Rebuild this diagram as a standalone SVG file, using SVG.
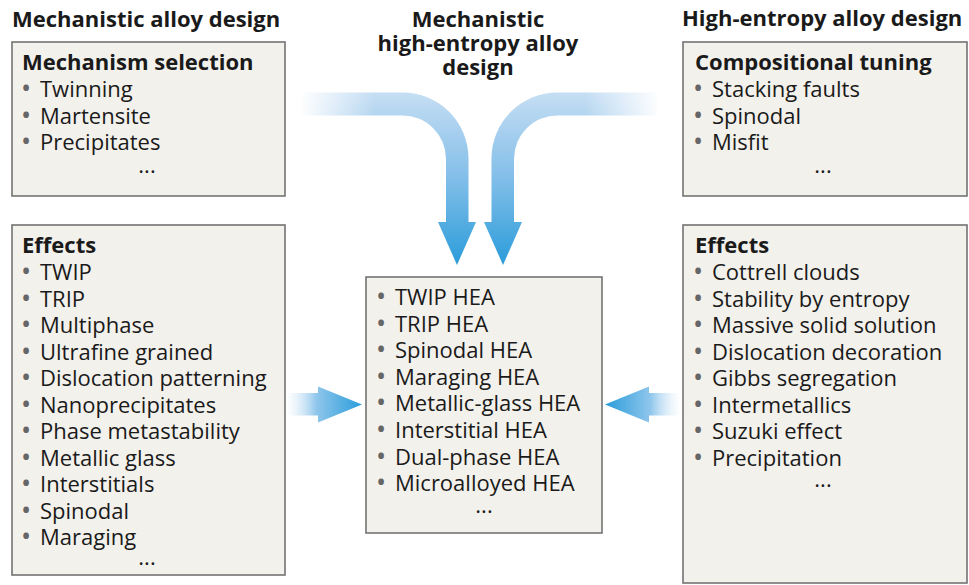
<svg xmlns="http://www.w3.org/2000/svg" width="969" height="585" viewBox="0 0 969 585">
<defs>
<style>
.t{font-family:"Open Sans","Noto Sans","Liberation Sans",sans-serif;font-size:22px;fill:#1a1a1a}
.h{font-weight:bold}
.b{fill:#666666;font-size:27px}
.box{fill:#f3f1ec;stroke:#737373;stroke-width:1.6}
</style>
<linearGradient id="gv" gradientUnits="userSpaceOnUse" x1="0" y1="92" x2="0" y2="265">
<stop offset="0" stop-color="#c6def3"/>
<stop offset="0.5" stop-color="#82bee9"/>
<stop offset="1" stop-color="#2a9cda"/>
</linearGradient>
<linearGradient id="gfade" gradientUnits="userSpaceOnUse" x1="300" y1="0" x2="375" y2="0">
<stop offset="0" stop-color="#ffffff" stop-opacity="1"/>
<stop offset="1" stop-color="#ffffff" stop-opacity="0"/>
</linearGradient>
<linearGradient id="gh" gradientUnits="userSpaceOnUse" x1="286" y1="0" x2="362" y2="0">
<stop offset="0" stop-color="#d8eaf8" stop-opacity="0"/>
<stop offset="0.4" stop-color="#8fc6ec"/>
<stop offset="1" stop-color="#2a9cda"/>
</linearGradient>
<g id="curveArrow">
<path d="M 300 92.5 H 402.5 A 66 66 0 0 1 468.5 158.5 V 222 H 476 L 457 265 L 438 222 H 446 V 159 A 43.5 43.5 0 0 0 402.5 115.5 H 300 Z" fill="url(#gv)"/>
<rect x="299" y="90" width="77" height="28" fill="url(#gfade)"/>
</g>
<path id="sideArrow" d="M 286 393 H 318 V 386.5 L 362 404.5 L 318 422.5 V 415.5 H 286 Z" fill="url(#gh)"/>
</defs>

<g id="titles">
<text class="t h" x="12" y="27">Mechanistic alloy design</text>
<text class="t h" x="478" y="27" text-anchor="middle">Mechanistic</text>
<text class="t h" x="478" y="51" text-anchor="middle">high-entropy alloy</text>
<text class="t h" x="478" y="75" text-anchor="middle">design</text>
<text class="t h" x="682" y="26">High-entropy alloy design</text>
</g>

<g id="connectors">
<use href="#curveArrow"/>
<use href="#curveArrow" transform="matrix(-1 0 0 1 960 0)"/>
<use href="#sideArrow"/>
<use href="#sideArrow" transform="matrix(-1 0 0 1 967 0)"/>
</g>

<g id="mechanism-selection">
<rect class="box" x="12" y="42" width="273" height="154"/>
<text class="t h" x="22" y="70">Mechanism selection</text>
<text class="t" x="21" y="98"><tspan class="b">•</tspan><tspan x="40" y="97">Twinning</tspan></text>
<text class="t" x="21" y="124.5"><tspan class="b">•</tspan><tspan x="40" y="123.5">Martensite</tspan></text>
<text class="t" x="21" y="151"><tspan class="b">•</tspan><tspan x="40" y="150">Precipitates</tspan></text>
<text class="t" x="147" y="173" text-anchor="middle">...</text>
</g>

<g id="effects-left">
<rect class="box" x="12" y="225" width="273" height="350"/>
<text class="t h" x="22" y="253">Effects</text>
<text class="t" x="21" y="281"><tspan class="b">•</tspan><tspan x="40" y="280">TWIP</tspan></text>
<text class="t" x="21" y="307.5"><tspan class="b">•</tspan><tspan x="40" y="306.5">TRIP</tspan></text>
<text class="t" x="21" y="334"><tspan class="b">•</tspan><tspan x="40" y="333">Multiphase</tspan></text>
<text class="t" x="21" y="360.5"><tspan class="b">•</tspan><tspan x="40" y="359.5">Ultrafine grained</tspan></text>
<text class="t" x="21" y="387"><tspan class="b">•</tspan><tspan x="40" y="386">Dislocation patterning</tspan></text>
<text class="t" x="21" y="413.5"><tspan class="b">•</tspan><tspan x="40" y="412.5">Nanoprecipitates</tspan></text>
<text class="t" x="21" y="440"><tspan class="b">•</tspan><tspan x="40" y="439">Phase metastability</tspan></text>
<text class="t" x="21" y="466.5"><tspan class="b">•</tspan><tspan x="40" y="465.5">Metallic glass</tspan></text>
<text class="t" x="21" y="493"><tspan class="b">•</tspan><tspan x="40" y="492">Interstitials</tspan></text>
<text class="t" x="21" y="519.5"><tspan class="b">•</tspan><tspan x="40" y="518.5">Spinodal</tspan></text>
<text class="t" x="21" y="546"><tspan class="b">•</tspan><tspan x="40" y="545">Maraging</tspan></text>
<text class="t" x="147" y="565" text-anchor="middle">...</text>
</g>

<g id="hea-types">
<rect class="box" x="366" y="277" width="236" height="256"/>
<text class="t" x="376" y="306"><tspan class="b">•</tspan><tspan x="395" y="305">TWIP HEA</tspan></text>
<text class="t" x="376" y="332.6"><tspan class="b">•</tspan><tspan x="395" y="331.6">TRIP HEA</tspan></text>
<text class="t" x="376" y="359.2"><tspan class="b">•</tspan><tspan x="395" y="358.2">Spinodal HEA</tspan></text>
<text class="t" x="376" y="385.8"><tspan class="b">•</tspan><tspan x="395" y="384.8">Maraging HEA</tspan></text>
<text class="t" x="376" y="412.4"><tspan class="b">•</tspan><tspan x="395" y="411.4">Metallic-glass HEA</tspan></text>
<text class="t" x="376" y="439"><tspan class="b">•</tspan><tspan x="395" y="438">Interstitial HEA</tspan></text>
<text class="t" x="376" y="465.6"><tspan class="b">•</tspan><tspan x="395" y="464.6">Dual-phase HEA</tspan></text>
<text class="t" x="376" y="492.2"><tspan class="b">•</tspan><tspan x="395" y="491.2">Microalloyed HEA</tspan></text>
<text class="t" x="484" y="513" text-anchor="middle">...</text>
</g>

<g id="compositional-tuning">
<rect class="box" x="683" y="42" width="284" height="154"/>
<text class="t h" x="695" y="70">Compositional tuning</text>
<text class="t" x="693" y="98"><tspan class="b">•</tspan><tspan x="712" y="97">Stacking faults</tspan></text>
<text class="t" x="693" y="124.5"><tspan class="b">•</tspan><tspan x="712" y="123.5">Spinodal</tspan></text>
<text class="t" x="693" y="151"><tspan class="b">•</tspan><tspan x="712" y="150">Misfit</tspan></text>
<text class="t" x="823" y="173" text-anchor="middle">...</text>
</g>

<g id="effects-right">
<rect class="box" x="683" y="225" width="284" height="358"/>
<text class="t h" x="695" y="253">Effects</text>
<text class="t" x="693" y="281"><tspan class="b">•</tspan><tspan x="712" y="280">Cottrell clouds</tspan></text>
<text class="t" x="693" y="307.5"><tspan class="b">•</tspan><tspan x="712" y="306.5">Stability by entropy</tspan></text>
<text class="t" x="693" y="334"><tspan class="b">•</tspan><tspan x="712" y="333">Massive solid solution</tspan></text>
<text class="t" x="693" y="360.5"><tspan class="b">•</tspan><tspan x="712" y="359.5">Dislocation decoration</tspan></text>
<text class="t" x="693" y="387"><tspan class="b">•</tspan><tspan x="712" y="386">Gibbs segregation</tspan></text>
<text class="t" x="693" y="413.5"><tspan class="b">•</tspan><tspan x="712" y="412.5">Intermetallics</tspan></text>
<text class="t" x="693" y="440"><tspan class="b">•</tspan><tspan x="712" y="439">Suzuki effect</tspan></text>
<text class="t" x="693" y="466.5"><tspan class="b">•</tspan><tspan x="712" y="465.5">Precipitation</tspan></text>
<text class="t" x="823" y="487" text-anchor="middle">...</text>
</g>
</svg>
